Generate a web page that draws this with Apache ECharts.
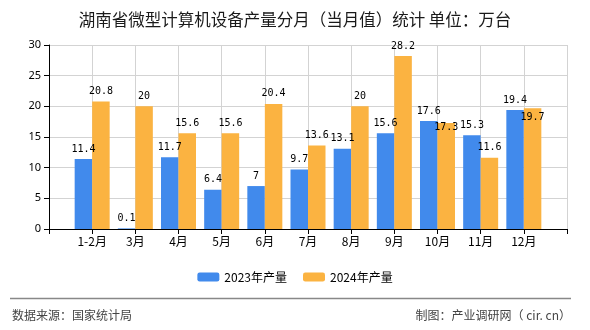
<!DOCTYPE html>
<html>
<head>
<meta charset="utf-8">
<script src="https://cdn.jsdelivr.net/npm/echarts@6/dist/echarts.min.js"></script>
<style>
html,body{margin:0;padding:0;background:#fff;}
#chart{width:590px;height:330px;}
</style>
</head>
<body>
<div id="chart"></div>
<script>
var categories = ['1-2月','3月','4月','5月','6月','7月','8月','9月','10月','11月','12月'];
var values2023 = [11.4, 0.1, 11.7, 6.4, 7, 9.7, 13.1, 15.6, 17.6, 15.3, 19.4];
var values2024 = [20.8, 20, 15.6, 15.6, 20.4, 13.6, 20, 28.2, 17.3, 11.6, 19.7];
var seriesNames = ['2023年产量','2024年产量'];
var yTicks = [0, 5, 10, 15, 20, 25, 30];

// label vertical shifts (style only) for overlapping labels in 2024 series
var shift2024 = [0,0,0,0,0,0,0,0,15,0,19];

var cats = [''].concat(categories).concat(['']);
function pad(arr, shifts){
  var out = ['-'];
  arr.forEach(function(v,i){
    if (shifts && shifts[i]) out.push({value:v, label:{offset:[0, shifts[i]]}});
    else out.push(v);
  });
  out.push('-');
  return out;
}

var chart = echarts.init(document.getElementById('chart'), null, {renderer:'canvas'});
var labelStyle = {show:true, position:'top', distance:5, color:'#000', fontFamily:'DejaVu Sans Mono', fontSize:10};
chart.setOption({
  animation:false,
  backgroundColor:'#fff',
  title:{
    text:'湖南省微型计算机设备产量分月（当月值）统计 单位：万台',
    left:'center', top:6,
    textStyle:{fontFamily:'Noto Sans CJK SC', fontSize:16.5, fontWeight:'normal', color:'#1a1a1a'}
  },
  grid:{left:49, right:23, top:45, bottom:101},
  legend:{
    data:seriesNames, left:'center', top:266,
    itemWidth:22, itemHeight:9, itemGap:16,
    textStyle:{fontFamily:'Noto Sans CJK SC', fontSize:12, color:'#000'}
  },
  xAxis:{
    type:'category', data:cats, boundaryGap:false,
    axisLine:{lineStyle:{color:'#000', width:1}},
    axisTick:{show:true, length:5, lineStyle:{color:'#000'}},
    axisLabel:{interval:0, margin:6, fontFamily:'Noto Sans CJK SC', fontSize:12, color:'#000'},
    splitLine:{show:true, lineStyle:{color:'#d3d3d3', width:1}}
  },
  yAxis:{
    type:'value', min:yTicks[0], max:yTicks[yTicks.length-1], interval:5,
    axisLine:{show:true, lineStyle:{color:'#000'}},
    axisTick:{show:true, length:5, lineStyle:{color:'#000'}},
    axisLabel:{margin:8, fontFamily:'Noto Sans', fontSize:11, color:'#000'},
    splitLine:{show:true, lineStyle:{color:'#d3d3d3', width:1}}
  },
  series:[
    {name:seriesNames[0], type:'bar', data:pad(values2023), barWidth:17.5, barGap:'0%',
     itemStyle:{color:'#418AEC'}, label:labelStyle},
    {name:seriesNames[1], type:'bar', data:pad(values2024, shift2024), barWidth:17.5, barGap:'0%',
     itemStyle:{color:'#FBB341'}, label:labelStyle}
  ],
  graphic:[
    {type:'line', shape:{x1:10, y1:298.5, x2:571, y2:298.5}, style:{stroke:'#888', lineWidth:1.5}},
    {type:'text', left:12, top:309, style:{text:'数据来源：国家统计局', fontFamily:'Noto Sans CJK SC', fontSize:12, fill:'#444'}},
    {type:'text', right:19, top:309, style:{text:'制图：产业调研网（ cir. cn）', fontFamily:'Noto Sans CJK SC', fontSize:12, fill:'#444'}}
  ]
});
</script>
</body>
</html>
